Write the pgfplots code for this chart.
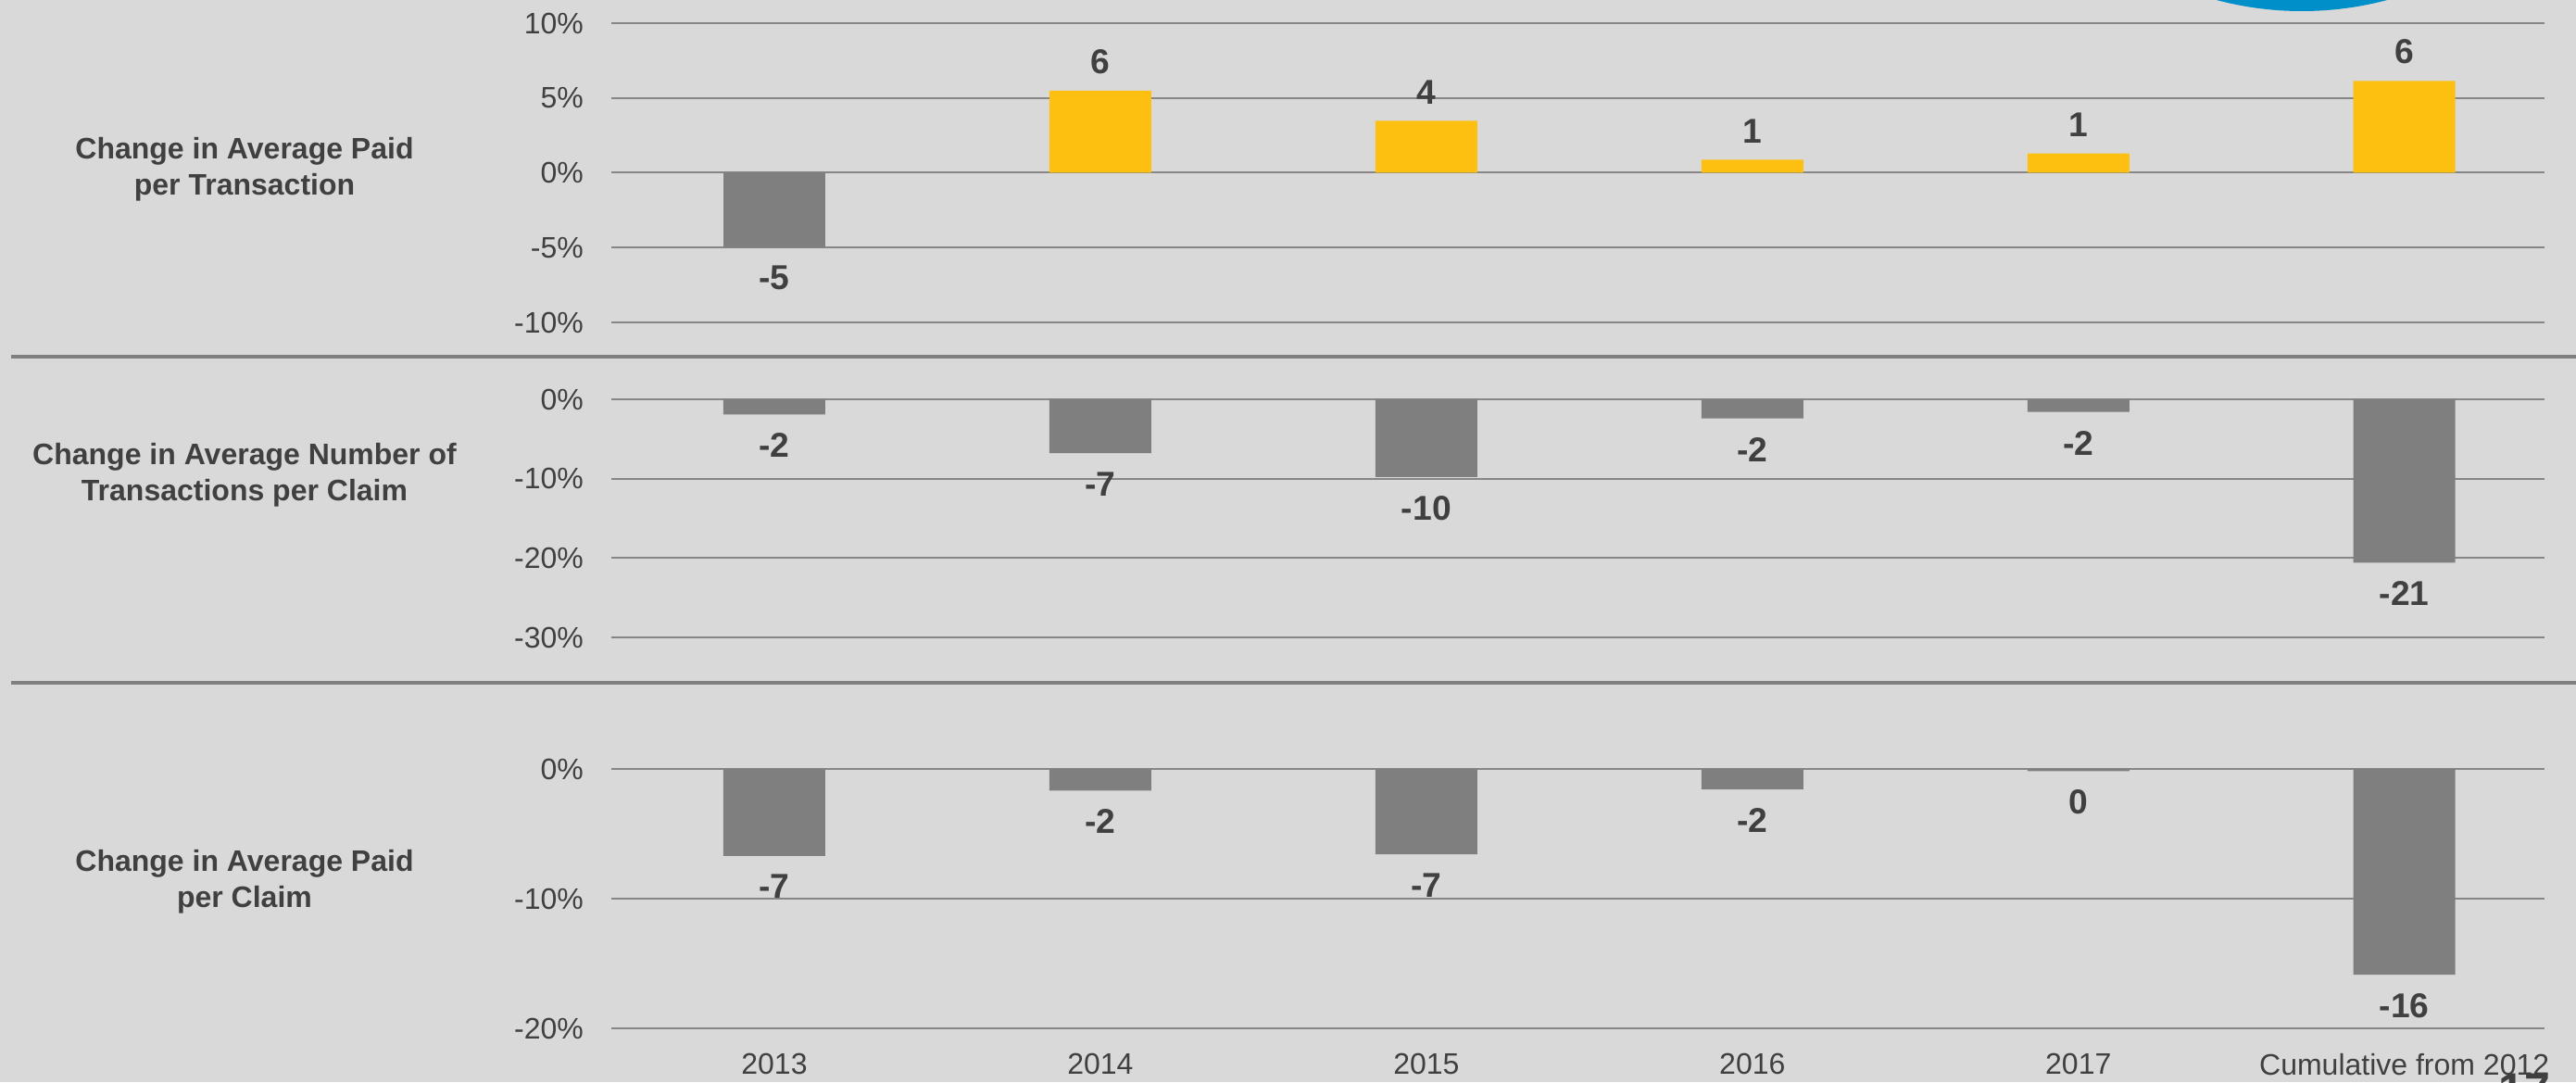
\documentclass[border=0pt]{standalone}
\usepackage{pgfplots}
\pgfplotsset{compat=1.18}
\usepackage{fontspec}
\setmainfont{Liberation Sans}
\definecolor{bg}{HTML}{D9D9D9}
\definecolor{barg}{HTML}{7F7F7F}
\definecolor{bary}{HTML}{FDC010}
\definecolor{txt}{HTML}{404040}
\definecolor{gridc}{HTML}{868686}
\definecolor{sepc}{HTML}{7F7F7F}
\definecolor{logo}{HTML}{008FC9}
\pgfplotsset{
  panel/.style={
    scale only axis, width=521.75pt, xmin=-0.5, xmax=5.43,
    anchor=south west,
    ybar, bar width=27.5pt, bar shift=0pt,
    axis line style={draw=none}, major tick length=0pt,
    ymajorgrids, grid style={gridc, line width=0.5pt},
    xtick={0,1,2,3,4,5}, xticklabels={},
    tick label style={font=\fontsize{8}{9.6}\selectfont, text=txt},
    yticklabel style={anchor=east, xshift=-4pt},
    xticklabel style={yshift=-3.2pt},
    clip=false,
    nodes near coords, point meta=explicit symbolic,
    every node near coord/.append style={font=\bfseries\fontsize{9.3}{11}\selectfont, text=txt},
  },
  posbar/.style={fill=bary, draw=none, every node near coord/.append style={anchor=south, yshift=1pt}},
  negbar/.style={fill=barg, draw=none, every node near coord/.append style={anchor=north, yshift=-1.6pt}},
}
\begin{document}
\begin{tikzpicture}
\useasboundingbox (0,0) rectangle (695.25pt,292pt);
\clip (0,0) rectangle (695.25pt,292pt);
\fill[bg] (0,0) rectangle (695.25pt,292pt);
\fill[logo] (621.25pt,378.5pt) circle (89.5pt);
\node[anchor=base west, inner sep=0pt, font=\bfseries\fontsize{12.5}{14}\selectfont, text=txt] at (674.25pt,-6.25pt) {17};
% separators
\draw[sepc, line width=0.875pt] (3pt,195.75pt) -- (695.25pt,195.75pt);
\draw[sepc, line width=0.875pt] (3pt,107.75pt) -- (695.25pt,107.75pt);
% row labels
\node[align=center, font=\bfseries\fontsize{8}{9.75}\selectfont, text=txt] at (66pt,246.25pt) {Change in Average Paid\\per Transaction};
\node[align=center, font=\bfseries\fontsize{8}{9.75}\selectfont, text=txt] at (66pt,163.75pt) {Change in Average Number of\\Transactions per Claim};
\node[align=center, font=\bfseries\fontsize{8}{9.75}\selectfont, text=txt] at (66pt,54pt) {Change in Average Paid\\per Claim};
% panel 1
\begin{axis}[panel, at={(165pt,205pt)}, height=80.75pt, ymin=-10, ymax=10,
  ytick={-10,-5,0,5,10}, yticklabels={-10\%,-5\%,0\%,5\%,10\%}]
\addplot[posbar] table[meta=label] {
x y label
1 5.48 6
2 3.48 4
3 0.87 1
4 1.29 1
5 6.13 6
};
\addplot[negbar] table[meta=label] {
x y label
0 -4.97 -5
};
\end{axis}
% panel 2
\begin{axis}[panel, at={(165pt,120pt)}, height=64.25pt, ymin=-30, ymax=0,
  ytick={-30,-20,-10,0}, yticklabels={-30\%,-20\%,-10\%,0\%}]
\addplot[negbar] table[meta=label] {
x y label
0 -1.9 -2
1 -6.8 -7
2 -9.8 -10
3 -2.4 -2
4 -1.6 -2
5 -20.6 -21
};
\end{axis}
% panel 3
\begin{axis}[panel, at={(165pt,14.5pt)}, height=70pt, ymin=-20, ymax=0,
  ytick={-20,-10,0}, yticklabels={-20\%,-10\%,0\%},
  xticklabels={2013,2014,2015,2016,2017,Cumulative from 2012}]
\addplot[negbar] table[meta=label] {
x y label
0 -6.70 -7
1 -1.67 -2
2 -6.58 -7
3 -1.58 -2
4 -0.17 0
5 -15.87 -16
};
\end{axis}
\end{tikzpicture}
\end{document}
